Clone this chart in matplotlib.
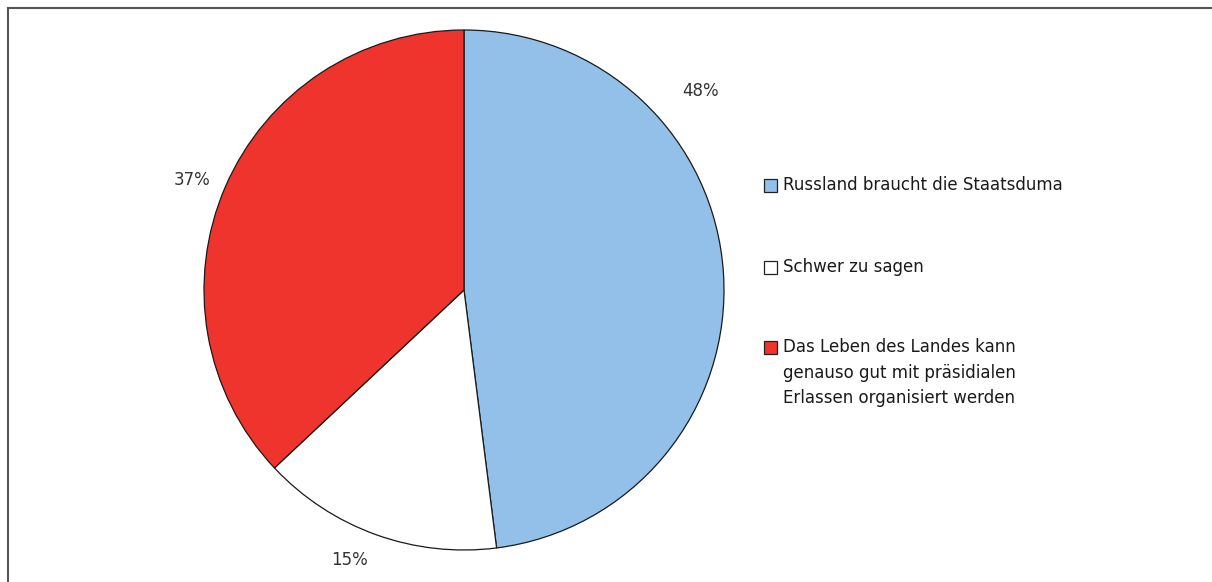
import numpy as np
import matplotlib
matplotlib.use("Agg")
import matplotlib.pyplot as plt
from matplotlib.patches import Rectangle
from matplotlib.lines import Line2D

labels = ["Russland braucht die Staatsduma",
          "Schwer zu sagen",
          "Das Leben des Landes kann\ngenauso gut mit präsidialen\nErlassen organisiert werden"]
values = [48, 15, 37]
colors = ["#92c0e8", "#ffffff", "#ee342c"]

plt.rcParams['font.family'] = ['DejaVu Sans']

W, H = 1212, 582
fig = plt.figure(figsize=(W/100, H/100), dpi=100)

# pie: center (464,290), radius 260 px
ax = fig.add_axes([204/W, (H-550)/H, 520/W, 520/H])
wedges, texts, autotexts = ax.pie(values, colors=colors, startangle=90, counterclock=False,
                                  autopct='%d%%', pctdistance=1.13,
                                  wedgeprops=dict(edgecolor='#1a1a1a', linewidth=0.9),
                                  textprops=dict(fontsize=12, color='#333333'))
ax.set_xlim(-1, 1)
ax.set_ylim(-1, 1)
ax.set_aspect('equal')
ax.axis('off')

# label spots in the original don't sit exactly on the slice middles
for t, ang, r in zip(autotexts, [40, -113, 158], [1.19, 1.13, 1.13]):
    a = np.deg2rad(ang)
    t.set_position((r*np.cos(a), r*np.sin(a)))

# legend drawn by hand so the marker lines up with the first text line
rows = [185, 267, 347]
for lab, col, y in zip(labels, colors, rows):
    fig.patches.append(Rectangle((764/W, (H-y-6.5)/H), 13/W, 13/H, transform=fig.transFigure,
                                 facecolor=col, edgecolor='#222222', linewidth=0.9))
    fig.text(783/W, (H-y+9)/H, lab, fontsize=12, color='#1a1a1a', va='top',
             linespacing=1.55, transform=fig.transFigure)

# frame (left and top only)
fig.add_artist(Line2D([7.5/W, 7.5/W], [0, (H-7.5)/H], color='#555555', linewidth=1.5,
                      transform=fig.transFigure))
fig.add_artist(Line2D([7.5/W, 1], [(H-7.5)/H, (H-7.5)/H], color='#555555', linewidth=1.5,
                      transform=fig.transFigure))

fig.savefig("out.png", dpi=100)
